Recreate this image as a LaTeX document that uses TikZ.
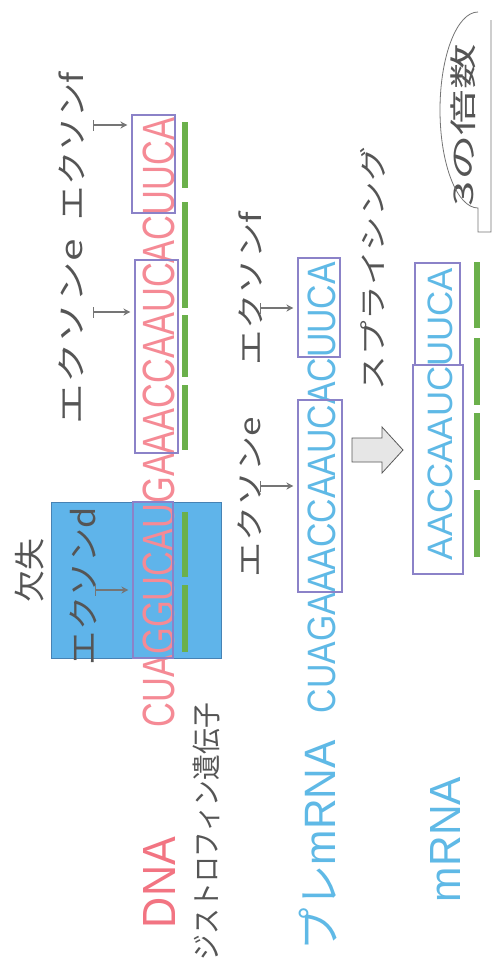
\documentclass[tikz,border=0pt]{standalone}
\usepackage{fontspec}
\usepackage{graphicx}
\setmainfont{Liberation Sans}
\newfontfamily\jpf{Noto Sans CJK JP}
\usetikzlibrary{arrows.meta}
\definecolor{dnared}{HTML}{F27482}
\definecolor{seqred}{HTML}{F58A95}
\definecolor{rnablue}{HTML}{5FB9E6}
\definecolor{boxpur}{HTML}{8B82C8}
\definecolor{cgreen}{HTML}{6BB04B}
\definecolor{delblue}{HTML}{5FB4EA}
\definecolor{deledge}{HTML}{4682B4}
\definecolor{txtgray}{HTML}{555555}
\definecolor{ptrgray}{HTML}{757575}
\definecolor{blkfill}{HTML}{E6E6E6}
\newcommand{\fitto}[3]{\resizebox*{#1pt}{#2pt}{#3}}
\begin{document}
\begin{tikzpicture}[x=1pt,y=-1pt,
  lbl/.style={rotate=90,inner sep=0pt,anchor=center},
  exbox/.style={draw=boxpur,line width=1.1pt,inner sep=0pt},
  codon/.style={draw=cgreen,line width=6pt},
  ptr/.style={draw=ptrgray,line width=1.4pt,{Bar[width=11pt]}-{Stealth[length=7pt,width=7pt]},shorten >=4pt},
]
\useasboundingbox (0,0) rectangle (493,977);
\fill[white] (0,0) rectangle (493,977);

% deletion region
\node[draw=deledge, fill=delblue, line width=0.6pt, inner sep=0pt, minimum width=170pt, minimum height=156pt] (del) at (136,580) {};

% texts
\node[lbl,text=txtgray] (kesshitsu) at (30,570) {\fitto{64}{29}{\jpf 欠失}};
\node[lbl,text=txtgray] (ld) at (83,586) {\fitto{158}{27}{\jpf エクソンd}};
\node[lbl,text=txtgray] (le) at (71,332) {\fitto{185}{25}{\jpf エクソンe}};
\node[lbl,text=txtgray] (lf) at (72,146) {\fitto{148}{26}{\jpf エクソンf}};
\node[lbl,text=txtgray] (lpe) at (250,497) {\fitto{160}{24}{\jpf エクソンe}};
\node[lbl,text=txtgray] (lpf) at (251,288.5) {\fitto{153}{24}{\jpf エクソンf}};

\node[lbl,text=seqred] (dnaseq) at (159,422.5) {\fitto{609}{32}{CUAGGUCAUGAAACCAAUCACUUCA}};
\node[lbl,text=rnablue] (preseq) at (322,487.5) {\fitto{451}{28}{CUAGAAACCAAUCACUUCA}};
\node[lbl,text=rnablue] (mseq) at (440.5,414) {\fitto{292}{25}{AACCAAUCUUCA}};

\node[lbl,text=dnared] (dna) at (159,882.5) {\fitto{91}{32}{DNA}};
\node[lbl,text=txtgray] (gene) at (206.5,831.5) {\fitto{257}{27}{\jpf ジストロフィン遺伝子}};
\node[lbl,text=rnablue] (pre) at (318,845) {\fitto{210}{38}{{\jpf プレ}mRNA}};
\node[lbl,text=rnablue] (mrna) at (445,839.5) {\fitto{125}{30}{mRNA}};
\node[lbl,text=txtgray] (spl) at (372.5,268.5) {\fitto{243}{25}{\jpf スプライシング}};
\node[lbl,text=txtgray] (three) at (463.5,125) {\fitto{162}{25}{\jpf 3の倍数}};

% exon boxes
\node[exbox, minimum width=40pt, minimum height=156pt] (bd) at (153,580) {};
\node[exbox, minimum width=43pt, minimum height=193pt] (be) at (156.5,356.5) {};
\node[exbox, minimum width=43pt, minimum height=98pt] (bf) at (153.5,164) {};
\node[exbox, minimum width=44pt, minimum height=192pt] (pe) at (320,496) {};
\node[exbox, minimum width=42pt, minimum height=99pt] (pf) at (319,307.5) {};
\node[exbox, minimum width=50pt, minimum height=209pt] (me) at (438,469.5) {};
\node[exbox, minimum width=45pt, minimum height=102pt] (mf) at (437.5,314) {};

% codon bars
\draw[codon] (185,122) -- (185,188);
\draw[codon] (185,202) -- (185,308);
\draw[codon] (185,315) -- (185,377);
\draw[codon] (185,385) -- (185,450);
\draw[codon] (185,512) -- (185,577);
\draw[codon] (185,585) -- (185,652);
\draw[codon] (477,262) -- (477,328);
\draw[codon] (477,338) -- (477,405);
\draw[codon] (477,413) -- (477,480);
\draw[codon] (477,490) -- (477,557);

% pointer arrows
\coordinate (sd) at (95,590);
\coordinate (se) at (93,312);
\coordinate (sf) at (93,125);
\coordinate (spe) at (260,486);
\coordinate (spf) at (260,308);
\draw[ptr] (sd) -- (sd -| bd.west);
\draw[ptr] (se) -- (se -| be.west);
\draw[ptr] (sf) -- (sf -| bf.west);
\draw[ptr] (spe) -- (spe -| pe.west);
\draw[ptr] (spf) -- (spf -| pf.west);

% splicing block arrow
\filldraw[fill=blkfill, draw=black!65, line width=0.8pt] (352,438) -- (382,438) -- (382,427) -- (403,450) -- (382,473) -- (382,462) -- (352,462) -- cycle;

% callout
\draw[ptrgray, line width=0.8pt] (478,12) arc[start angle=90, end angle=270, x radius=38pt, y radius=98pt] -- (478,232) -- (491,232) -- (491,20);
\end{tikzpicture}
\end{document}
